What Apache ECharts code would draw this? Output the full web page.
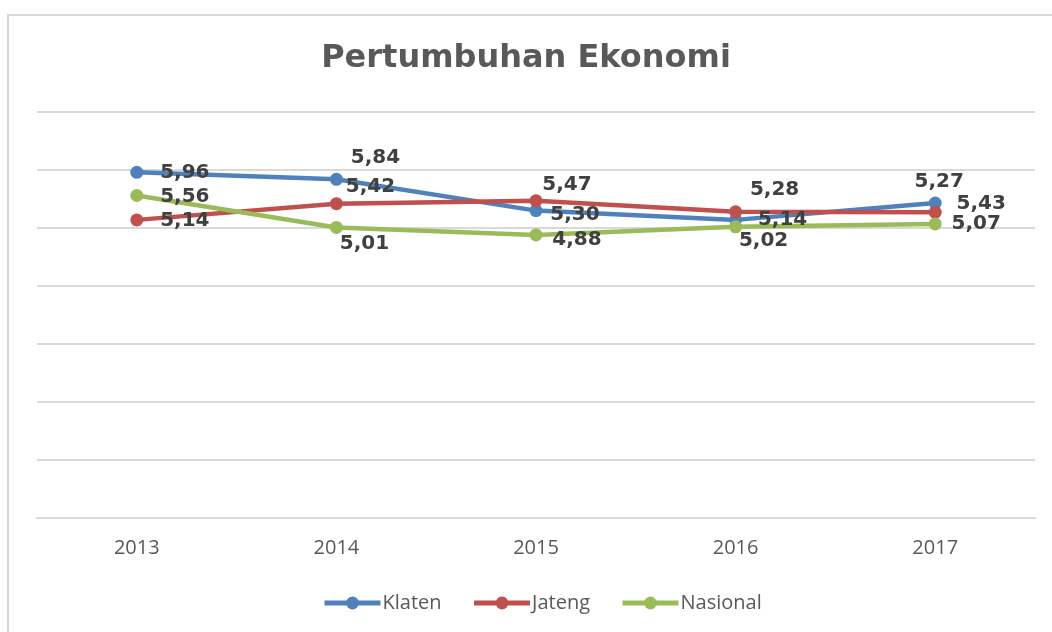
<!DOCTYPE html>
<html>
<head>
<meta charset="utf-8">
<script src="https://cdn.jsdelivr.net/npm/echarts@6/dist/echarts.min.js"></script>
<style>
  html, body { margin: 0; padding: 0; background: #fff; }
  #frame { position: absolute; left: 7px; top: 14px; width: 1060px; height: 640px; border: 2px solid #d9d9d9; box-sizing: border-box; }
  #chart { position: absolute; left: 0; top: 0; width: 1052px; height: 632px; }
</style>
</head>
<body>
<div id="frame"></div>
<div id="chart"></div>
<script>
    var years = ['2013', '2014', '2015', '2016', '2017']
    var klaten = [5.96, 5.84, 5.30, 5.14, 5.43]
    var jateng = [5.14, 5.42, 5.47, 5.28, 5.27]
    var nasional = [5.56, 5.01, 4.88, 5.02, 5.07]

    // label offsets from each point (px), as placed in the picture
    var klatenOff = [[48, 0], [39, -21], [39, 4], [47, 0], [46, 1]]
    var jatengOff = [[48, 1], [34, -17], [31, -16], [39, -22], [4, -31]]
    var nasionalOff = [[48, 1], [28, 16], [41, 5], [28, 14], [41, 0]]

    function points(values, offsets) {
        return values.map(function(v, i) {
            return { value: v, label: { offset: offsets[i] } }
        })
    }

    function line(name, color, values, offsets) {
        return {
            name: name,
            type: 'line',
            data: points(values, offsets),
            symbol: 'circle',
            symbolSize: 13,
            lineStyle: { width: 4.5, color: color },
            itemStyle: { color: color },
            label: {
                show: true,
                position: 'inside',
                color: '#404040',
                fontFamily: 'DejaVu Sans',
                fontWeight: 'bold',
                fontSize: 20,
                formatter: function(p) { return p.value.toFixed(2).replace('.', ',') }
            },
            animation: false
        }
    }

    var chart = echarts.init(document.getElementById('chart'))
    chart.setOption({
        title: {
            text: 'Pertumbuhan Ekonomi',
            left: 'center',
            top: 38,
            textStyle: { fontFamily: 'DejaVu Sans', fontWeight: 'bold', fontSize: 32, color: '#595959' }
        },
        grid: { left: 37, right: 17, top: 112, bottom: 114 },
        xAxis: {
            type: 'category',
            data: years,
            axisLine: { lineStyle: { color: '#d9d9d9', width: 2 } },
            axisTick: { show: false },
            axisLabel: { color: '#595959', fontFamily: 'Open Sans', fontSize: 20, margin: 20 }
        },
        yAxis: {
            type: 'value',
            min: 0,
            max: 7,
            interval: 1,
            axisLabel: { show: false },
            axisLine: { show: false },
            axisTick: { show: false },
            splitLine: { lineStyle: { color: '#d9d9d9', width: 2 } }
        },
        legend: {
            bottom: 14,
            left: 317,
            itemWidth: 56,
            itemHeight: 16,
            itemGap: 30,
            lineStyle: { width: 5 },
            textStyle: { color: '#595959', fontFamily: 'Open Sans', fontSize: 20, padding: [0, 0, 0, -3] },
            data: ['Klaten', 'Jateng', 'Nasional']
        },
        series: [
            line('Klaten', '#4f81bd', klaten, klatenOff),
            line('Jateng', '#c0504d', jateng, jatengOff),
            line('Nasional', '#9bbb59', nasional, nasionalOff)
        ]
    })
</script>
</body>
</html>
